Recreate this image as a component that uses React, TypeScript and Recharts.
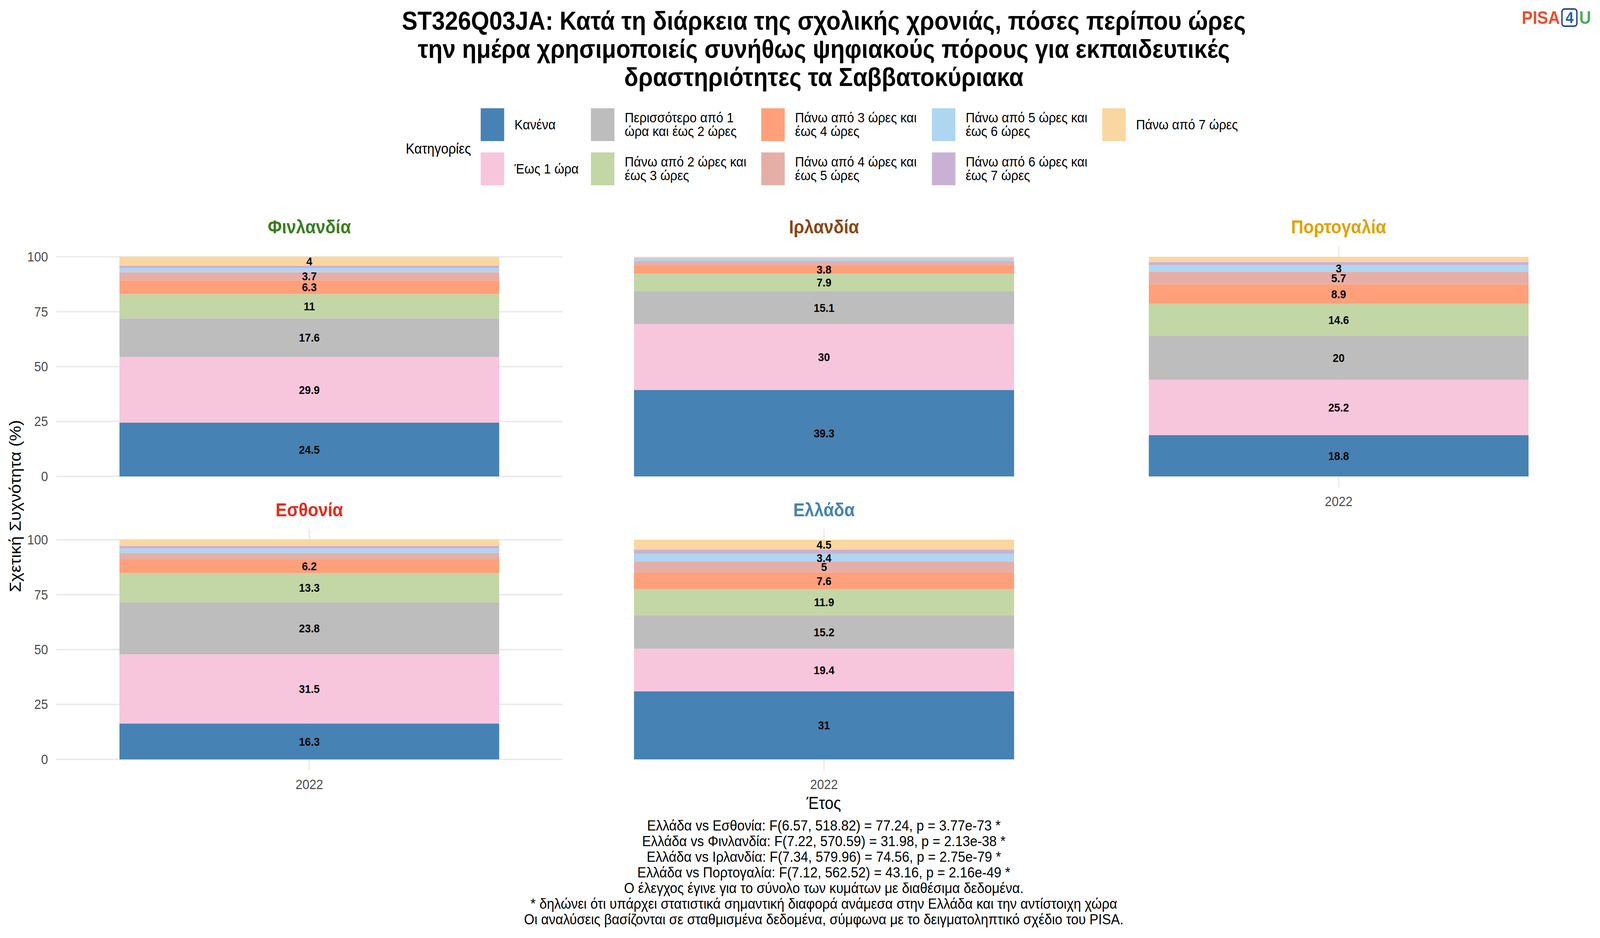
import React from "react";
import { BarChart, Bar, XAxis, YAxis, CartesianGrid, LabelList } from "recharts";

const FONT = '"Liberation Sans", Arial, Helvetica, sans-serif';

// categories (stack order, bottom to top)
const categories = [
  "Κανένα",
  "Έως 1 ώρα",
  "Περισσότερο από 1 ώρα και έως 2 ώρες",
  "Πάνω από 2 ώρες και έως 3 ώρες",
  "Πάνω από 3 ώρες και έως 4 ώρες",
  "Πάνω από 4 ώρες και έως 5 ώρες",
  "Πάνω από 5 ώρες και έως 6 ώρες",
  "Πάνω από 6 ώρες και έως 7 ώρες",
  "Πάνω από 7 ώρες",
];
const legendLabels = [
  ["Κανένα"],
  ["Έως 1 ώρα"],
  ["Περισσότερο από 1", "ώρα και έως 2 ώρες"],
  ["Πάνω από 2 ώρες και", "έως 3 ώρες"],
  ["Πάνω από 3 ώρες και", "έως 4 ώρες"],
  ["Πάνω από 4 ώρες και", "έως 5 ώρες"],
  ["Πάνω από 5 ώρες και", "έως 6 ώρες"],
  ["Πάνω από 6 ώρες και", "έως 7 ώρες"],
  ["Πάνω από 7 ώρες"],
];
const colors = [
  "#4682B4", "#F7C6DC", "#BDBDBD", "#C3D6A5", "#FFA07A",
  "#E5AFA8", "#AED6F0", "#C9B1D6", "#FAD6A0",
];

const years = ["2022"];

// percentages per country, same order as categories
const finland = [24.5, 29.9, 17.6, 11, 6.3, 3.7, 1.8, 1.2, 4];
const ireland = [39.3, 30, 15.1, 7.9, 3.8, 2.0, 1.0, 0.3, 0.6];
const portugal = [18.8, 25.2, 20, 14.6, 8.9, 5.7, 3, 1.4, 2.4];
const estonia = [16.3, 31.5, 23.8, 13.3, 6.2, 2.9, 2.0, 1.2, 2.8];
const greece = [31, 19.4, 15.2, 11.9, 7.6, 5, 3.4, 2.0, 4.5];

const countries = ["Φινλανδία", "Ιρλανδία", "Πορτογαλία", "Εσθονία", "Ελλάδα"];
const countryColors = ["#3A7D22", "#8B4513", "#E69F00", "#E8291C", "#4682B4"];
const countryValues = [finland, ireland, portugal, estonia, greece];

const majorTicks = [0, 25, 50, 75, 100];
const minorTicks = [12.5, 37.5, 62.5, 87.5];

const titleLines = [
  "ST326Q03JA: Κατά τη διάρκεια της σχολικής χρονιάς, πόσες περίπου ώρες",
  "την ημέρα χρησιμοποιείς συνήθως ψηφιακούς πόρους για εκπαιδευτικές",
  "δραστηριότητες τα Σαββατοκύριακα",
];
const captionLines = [
  "Ελλάδα vs Εσθονία: F(6.57, 518.82) = 77.24, p = 3.77e-73 *",
  "Ελλάδα vs Φινλανδία: F(7.22, 570.59) = 31.98, p = 2.13e-38 *",
  "Ελλάδα vs Ιρλανδία: F(7.34, 579.96) = 74.56, p = 2.75e-79 *",
  "Ελλάδα vs Πορτογαλία: F(7.12, 562.52) = 43.16, p = 2.16e-49 *",
  "Ο έλεγχος έγινε για το σύνολο των κυμάτων με διαθέσιμα δεδομένα.",
  "* δηλώνει ότι υπάρχει στατιστικά σημαντική διαφορά ανάμεσα στην Ελλάδα και την αντίστοιχη χώρα",
  "Οι αναλύσεις βασίζονται σε σταθμισμένα δεδομένα, σύμφωνα με το δειγματοληπτικό σχέδιο του PISA.",
];

// panel placement (facet_wrap, 3 columns)
const panels = [
  { left: 0, top: 629, width: 1582, axisW: 158, showX: false },
  { left: 1605, top: 629, width: 1425, axisW: 0, showX: false },
  { left: 3053, top: 629, width: 1424, axisW: 0, showX: true },
  { left: 0, top: 1353, width: 1582, axisW: 158, showX: true },
  { left: 1605, top: 1353, width: 1425, axisW: 0, showX: true },
];
const PLOT_H = 618;
const XAXIS_H = 70;

// fit the 4500x2400 layout to the real viewport
const hasWin = typeof window !== "undefined";
const VIEW_W = hasWin && window.innerWidth > 1000 ? window.innerWidth : 4500;
const VIEW_H = hasWin && window.innerHeight > 500 ? window.innerHeight : 2400;
const SX = VIEW_W / 4500;
const SY = VIEW_H / 2400;

function CenterText({ x, y, size, color = "#000", bold = false, children, rotate = 0 }: any) {
  return (
    <div
      style={{
        position: "absolute",
        left: x,
        top: y,
        transform: `translate(-50%, -50%) rotate(${rotate}deg)`,
        whiteSpace: "nowrap",
        fontSize: size,
        fontWeight: bold ? "bold" : "normal",
        color,
        lineHeight: 1,
      }}
    >
      {children}
    </div>
  );
}

const YTick = ({ x, y, payload }: any) => (
  <text x={x - 23} y={y} textAnchor="end" dominantBaseline="central" fontSize={35} fill="#4D4D4D" fontFamily={FONT}>
    {payload.value}
  </text>
);

const XTick = ({ x, y, payload }: any) => (
  <text x={x} y={y + 36} textAnchor="middle" dominantBaseline="central" fontSize={35} fill="#4D4D4D" fontFamily={FONT}>
    {payload.value}
  </text>
);

const SegmentLabel = ({ x, y, width, height, value }: any) => {
  if (value == null || value < 3) return null;
  return (
    <text
      x={x + width / 2}
      y={y + height / 2}
      textAnchor="middle"
      dominantBaseline="central"
      fontSize={30}
      fontWeight="bold"
      fill="#000"
      fontFamily={FONT}
    >
      {value}
    </text>
  );
};

function Panel({ index }: { index: number }) {
  const p = panels[index];
  const values = countryValues[index];
  const data = years.map((year) => {
    const row: Record<string, any> = { year };
    values.forEach((v, i) => (row["c" + i] = v));
    return row;
  });
  const plotLeft = p.left + p.axisW;
  const plotW = p.width - p.axisW;

  return (
    <>
      <CenterText x={plotLeft + plotW / 2} y={p.top - 48} size={48} bold color={countryColors[index]}>
        {countries[index]}
      </CenterText>
      <div style={{ position: "absolute", left: p.left, top: p.top }}>
        <BarChart
          width={p.width}
          height={PLOT_H + XAXIS_H}
          data={data}
          margin={{ top: 0, right: 0, bottom: 0, left: 0 }}
          barCategoryGap="12.5%"
        >
          <CartesianGrid yAxisId="minor" vertical={false} stroke="#EBEBEB" strokeWidth={2} syncWithTicks />
          <CartesianGrid yAxisId="major" stroke="#EBEBEB" strokeWidth={4} syncWithTicks />
          <XAxis
            dataKey="year"
            type="category"
            height={XAXIS_H}
            axisLine={false}
            tickLine={false}
            tickSize={0}
            tickMargin={0}
            tick={p.showX ? <XTick /> : false}
          />
          <YAxis
            yAxisId="major"
            type="number"
            domain={[-5, 105]}
            ticks={majorTicks}
            interval={0}
            width={p.axisW}
            axisLine={false}
            tickLine={false}
            tickSize={0}
            tickMargin={0}
            tick={p.axisW > 0 ? <YTick /> : false}
            allowDataOverflow
          />
          <YAxis
            yAxisId="minor"
            type="number"
            domain={[-5, 105]}
            ticks={minorTicks}
            interval={0}
            width={0}
            axisLine={false}
            tickLine={false}
            tick={false}
            allowDataOverflow
          />
          {categories.map((cat, i) => (
            <Bar
              key={cat}
              name={cat}
              dataKey={"c" + i}
              yAxisId="major"
              stackId="s"
              fill={colors[i]}
              isAnimationActive={false}
            >
              <LabelList dataKey={"c" + i} content={<SegmentLabel />} />
            </Bar>
          ))}
        </BarChart>
      </div>
    </>
  );
}

const legendKeyX = [1352, 1662, 2141, 2621, 3100];
const legendRowTop = [277, 390];

export default function App() {
  return (
    <div style={{ position: "absolute", left: 0, top: 0, width: 4500 * SX, height: 2400 * SY, overflow: "hidden", background: "#fff" }}>
      <div
        style={{
          position: "relative",
          width: 4500,
          height: 2400,
          background: "#fff",
          fontFamily: FONT,
          transform: `scale(${SX}, ${SY})`,
          transformOrigin: "0 0",
        }}
      >
        {titleLines.map((line, i) => (
          <CenterText key={i} x={2317} y={53 + i * 72} size={66} bold>
            {line}
          </CenterText>
        ))}

        {/* PISA4U logo */}
        <div style={{ position: "absolute", left: 4280, top: 20, height: 50, display: "flex", alignItems: "center", fontWeight: "bold", fontSize: 46 }}>
          <span style={{ color: "#EE4B2B" }}>PISA</span>
          <span
            style={{
              margin: "0 4px",
              border: "4px solid #2B4594",
              borderRadius: 9,
              width: 38,
              height: 40,
              display: "inline-flex",
              alignItems: "center",
              justifyContent: "center",
              color: "#1D5FA8",
              fontSize: 40,
            }}
          >
            4
          </span>
          <span style={{ color: "#4CAF50" }}>U</span>
        </div>

        {/* legend */}
        <CenterText x={1233} y={380} size={37}>Κατηγορίες</CenterText>
        {categories.map((cat, i) => {
          const col = Math.floor(i / 2);
          const row = i % 2;
          const kx = legendKeyX[col];
          const ky = legendRowTop[row];
          return (
            <React.Fragment key={cat}>
              <div style={{ position: "absolute", left: kx, top: ky, width: 66, height: 84, background: colors[i] }} />
              <div
                style={{
                  position: "absolute",
                  left: kx + 95,
                  top: ky + 42,
                  transform: "translateY(-50%)",
                  fontSize: 35.5,
                  lineHeight: "35px",
                  whiteSpace: "nowrap",
                  color: "#000",
                }}
              >
                {legendLabels[i].map((l, j) => (
                  <div key={j}>{l}</div>
                ))}
              </div>
            </React.Fragment>
          );
        })}

        {panels.map((_, i) => (
          <Panel key={i} index={i} />
        ))}

        <CenterText x={43} y={1295} size={44} rotate={-90}>
          Σχετική Συχνότητα (%)
        </CenterText>
        <CenterText x={2317} y={2055} size={44}>Έτος</CenterText>

        {captionLines.map((line, i) => (
          <CenterText key={i} x={2317} y={2113 + i * 40} size={37.5}>
            {line}
          </CenterText>
        ))}
      </div>
    </div>
  );
}
